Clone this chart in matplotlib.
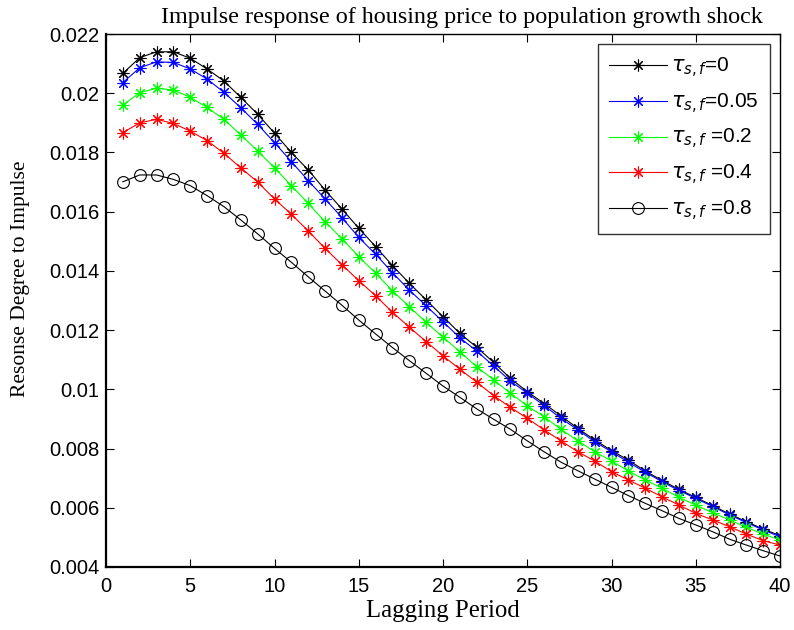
import matplotlib
matplotlib.use("Agg")
import matplotlib.pyplot as plt
import numpy as np

periods = np.arange(1, 41)

tau_0 = [0.02067, 0.02120, 0.02140, 0.02140, 0.02118, 0.02082, 0.02041, 0.01986, 0.01929, 0.01865,
         0.01800, 0.01741, 0.01673, 0.01609, 0.01544, 0.01482, 0.01418, 0.01358, 0.01302, 0.01245,
         0.01189, 0.01142, 0.01091, 0.01037, 0.00992, 0.00952, 0.00910, 0.00868, 0.00829, 0.00793,
         0.00761, 0.00724, 0.00692, 0.00662, 0.00635, 0.00607, 0.00579, 0.00553, 0.00528, 0.00506]
tau_005 = [0.02036, 0.02086, 0.02106, 0.02104, 0.02082, 0.02048, 0.02003, 0.01951, 0.01895, 0.01833,
           0.01769, 0.01705, 0.01643, 0.01580, 0.01513, 0.01456, 0.01394, 0.01335, 0.01282, 0.01228,
           0.01174, 0.01129, 0.01079, 0.01028, 0.00987, 0.00945, 0.00902, 0.00863, 0.00823, 0.00789,
           0.00754, 0.00720, 0.00688, 0.00658, 0.00632, 0.00604, 0.00576, 0.00550, 0.00525, 0.00502]
tau_02 = [0.01960, 0.02002, 0.02017, 0.02011, 0.01986, 0.01952, 0.01912, 0.01859, 0.01805, 0.01748,
          0.01688, 0.01628, 0.01566, 0.01509, 0.01448, 0.01392, 0.01333, 0.01279, 0.01226, 0.01176,
          0.01127, 0.01076, 0.01032, 0.00987, 0.00944, 0.00907, 0.00865, 0.00826, 0.00789, 0.00758,
          0.00724, 0.00694, 0.00666, 0.00635, 0.00609, 0.00583, 0.00559, 0.00534, 0.00511, 0.00491]
tau_04 = [0.01867, 0.01900, 0.01912, 0.01898, 0.01872, 0.01840, 0.01797, 0.01748, 0.01700, 0.01643,
          0.01591, 0.01535, 0.01476, 0.01421, 0.01367, 0.01316, 0.01260, 0.01210, 0.01161, 0.01113,
          0.01068, 0.01024, 0.00979, 0.00939, 0.00902, 0.00863, 0.00826, 0.00789, 0.00758, 0.00722,
          0.00694, 0.00666, 0.00637, 0.00609, 0.00581, 0.00559, 0.00536, 0.00511, 0.00489, 0.00474]
tau_08 = [0.01701, 0.01724, 0.01724, 0.01709, 0.01688, 0.01654, 0.01617, 0.01572, 0.01525, 0.01476,
          0.01429, 0.01380, 0.01332, 0.01284, 0.01234, 0.01187, 0.01141, 0.01097, 0.01054, 0.01011,
          0.00973, 0.00934, 0.00899, 0.00865, 0.00826, 0.00789, 0.00754, 0.00725, 0.00697, 0.00669,
          0.00641, 0.00615, 0.00590, 0.00564, 0.00542, 0.00519, 0.00494, 0.00474, 0.00455, 0.00437]

labels = [r'$\tau_{s,f}$=0', r'$\tau_{s,f}$=0.05', r'$\tau_{s,f}$ =0.2',
          r'$\tau_{s,f}$ =0.4', r'$\tau_{s,f}$ =0.8']
yticks = [0.004, 0.006, 0.008, 0.01, 0.012, 0.014, 0.016, 0.018, 0.02, 0.022]
yticklabels = ['0.004', '0.006', '0.008', '0.01', '0.012', '0.014', '0.016', '0.018', '0.02', '0.022']
xticks = [0, 5, 10, 15, 20, 25, 30, 35, 40]


def main():
    plt.rcParams['font.family'] = ['Liberation Sans', 'DejaVu Sans']
    fig = plt.figure(figsize=(7.94, 6.30), dpi=100)
    ax = fig.add_axes([0.1335, 0.1, 0.849, 0.846])

    star = (8, 2, 0)
    series = [(tau_0, 'k', star), (tau_005, 'b', star), (tau_02, '#00ff00', star),
              (tau_04, 'r', star), (tau_08, 'k', 'o')]
    for (vals, col, mk), lab in zip(series, labels):
        if mk == 'o':
            ax.plot(periods, vals, color=col, lw=0.8, marker='o', ms=8.5,
                    mfc='none', mec=col, mew=0.8, label=lab)
        else:
            ax.plot(periods, vals, color=col, lw=0.8, marker=mk, ms=8.5,
                    mec=col, mew=0.8, label=lab)

    ax.set_xlim(0, 40)
    ax.set_ylim(0.004, 0.022)
    ax.set_xticks(xticks)
    ax.set_yticks(yticks)
    ax.set_yticklabels(yticklabels)
    ax.tick_params(direction='in', top=True, right=True, length=6, width=0.8,
                   labelsize=14.5)
    ax.tick_params(axis='x', pad=7)
    ax.tick_params(axis='y', pad=5)
    for side in ['left', 'bottom']:
        ax.spines[side].set_linewidth(1.6)
    for side in ['top', 'right']:
        ax.spines[side].set_linewidth(1.0)

    serif = ['Liberation Serif', 'DejaVu Serif']
    ax.set_xlabel('Lagging Period', family=serif, fontsize=17.8, labelpad=3)
    ax.set_ylabel('Resonse Degree to Impulse', family=serif, fontsize=15.5)
    ax.yaxis.set_label_coords(-0.112, 0.541)
    ax.text(0.528, 1.012, 'Impulse response of housing price to population growth shock',
            transform=ax.transAxes, ha='center', va='bottom', family=serif, fontsize=17.4)

    leg = ax.legend(loc='upper right', fontsize=15, frameon=True, fancybox=False,
                    edgecolor='k', borderpad=0.55, labelspacing=0.55, handlelength=2.75,
                    handletextpad=0.2, bbox_to_anchor=(1.0, 1.0))
    leg.get_frame().set_linewidth(1.0)

    fig.savefig('out.png', dpi=100)


if __name__ == '__main__':
    main()
